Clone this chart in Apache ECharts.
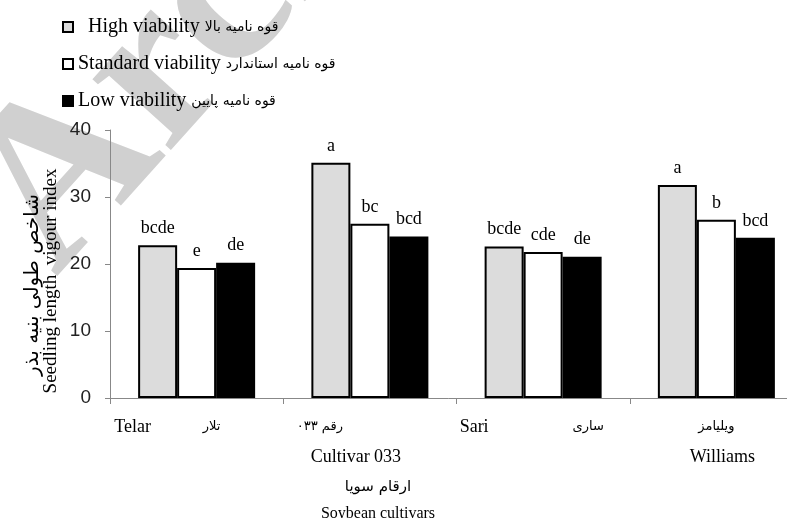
<!DOCTYPE html>
<html>
<head>
<meta charset="utf-8">
<script src="https://cdn.jsdelivr.net/npm/echarts@6/dist/echarts.min.js"></script>
<style>
  html, body { margin: 0; padding: 0; background: #fff; }
  #main-chart { width: 787px; height: 518px; }
</style>
</head>
<body>
<div id="main-chart"></div>
<script>
// cultivars (english + persian names)
var categories = ['Telar', 'Cultivar 033', 'Sari', 'Williams'];
var categoriesFa = ['تلار', 'رقم ۰۳۳', 'ساری', 'ویلیامز'];

// seedling length vigour index
var highViability = [22.8, 35.1, 22.6, 31.8];
var standardViability = [19.4, 26.0, 21.8, 26.6];
var lowViability = [20.2, 24.1, 21.1, 23.9];

// mean comparison letters
var highLetters = ['bcde', 'a', 'bcde', 'a'];
var standardLetters = ['e', 'bc', 'cde', 'b'];
var lowLetters = ['de', 'bcd', 'de', 'bcd'];

var seriesNames = ['High viability', 'Standard viability', 'Low viability'];
var seriesNamesFa = ['قوه نامیه بالا', 'قوه نامیه استاندارد', 'قوه نامیه پایین'];

var yTicks = [0, 10, 20, 30, 40];

// label placement under the axis: [dx from group center, row]
var enLabelPos = [[-64, 0], [-14, 1], [-69, 0], [6, 1]];
var faLabelPos = [[15, 0], [-50, 0], [45, 0], [0, 0]];

var serif = 'Liberation Serif';
var arabic = 'DejaVu Sans';

var myChart = echarts.init(document.getElementById('main-chart'));

function letterLabel(letters) {
    return {
        show: true,
        position: 'top',
        distance: 8,
        fontFamily: serif,
        fontSize: 18,
        color: '#000',
        formatter: function (p) { return letters[p.dataIndex]; }
    };
}

var option = {
    animation: false,
    backgroundColor: '#fff',
    grid: { left: 110, top: 130, right: -16, height: 268, outerBoundsMode: 'none' },
    legend: {
        orient: 'vertical',
        left: 62,
        top: 17,
        padding: 0,
        icon: 'rect',
        itemWidth: 10,
        itemHeight: 10,
        itemGap: 17,
        data: [
            { name: seriesNames[0], itemStyle: { color: '#dcdcdc', borderColor: '#000', borderWidth: 2 } },
            { name: seriesNames[1], itemStyle: { color: '#fff', borderColor: '#000', borderWidth: 2 } },
            { name: seriesNames[2], itemStyle: { color: '#000', borderColor: '#000', borderWidth: 2 } }
        ],
        formatter: function (name) {
            var i = seriesNames.indexOf(name);
            var lead = i === 0 ? '  ' : '';
            return '{en|' + lead + name + ' }{fa|' + seriesNamesFa[i] + '}';
        },
        textStyle: {
            rich: {
                en: { fontFamily: serif, fontSize: 20, color: '#000', lineHeight: 20 },
                fa: { fontFamily: arabic, fontSize: 14, color: '#000', lineHeight: 20 }
            }
        }
    },
    xAxis: {
        type: 'category',
        data: categories,
        axisLine: { lineStyle: { color: '#888', width: 1 } },
        axisTick: { show: true, length: 6, lineStyle: { color: '#888' } },
        axisLabel: { show: false }
    },
    yAxis: {
        type: 'value',
        min: yTicks[0],
        max: yTicks[yTicks.length - 1],
        interval: 10,
        splitLine: { show: false },
        axisLine: { show: true, lineStyle: { color: '#888', width: 1 } },
        axisTick: { show: true, length: 5, lineStyle: { color: '#888' } },
        axisLabel: { fontFamily: 'Liberation Sans', fontSize: 19, color: '#222', margin: 19 }
    },
    series: [
        {
            name: seriesNames[0], type: 'bar', data: highViability,
            barWidth: 39, barGap: '0%',
            itemStyle: { color: '#dcdcdc', borderColor: '#000', borderWidth: 2 },
            label: letterLabel(highLetters)
        },
        {
            name: seriesNames[1], type: 'bar', data: standardViability,
            barWidth: 39, barGap: '0%',
            itemStyle: { color: '#fff', borderColor: '#000', borderWidth: 2 },
            label: letterLabel(standardLetters)
        },
        {
            name: seriesNames[2], type: 'bar', data: lowViability,
            barWidth: 39, barGap: '0%',
            itemStyle: { color: '#000', borderColor: '#000', borderWidth: 2 },
            label: letterLabel(lowLetters)
        }
    ]
};
myChart.setOption(option);

// axis texts placed from the category scale
var rowY = [427, 457];
var graphics = [
    {   // watermark
        type: 'text', z: -10, silent: true,
        x: 97, y: 315, rotation: 48 * Math.PI / 180,
        style: { text: 'Archive of SID', fontFamily: serif, fontWeight: 'bold', fontSize: 230, fill: '#d0d0d0', verticalAlign: 'bottom' }
    },
    {   // y axis title
        type: 'text', x: 33, y: 285, rotation: Math.PI / 2,
        style: { text: 'شاخص طولی بنیه بذر', fontFamily: arabic, fontSize: 20, fill: '#000', align: 'center', verticalAlign: 'middle' }
    },
    {
        type: 'text', x: 51, y: 281, rotation: Math.PI / 2,
        style: { text: 'Seedling length  vigour index', fontFamily: serif, fontSize: 19, fill: '#000', align: 'center', verticalAlign: 'middle' }
    },
    {   // x axis title
        type: 'text', x: 378, y: 487,
        style: { text: 'ارقام سویا', fontFamily: arabic, fontSize: 15, fill: '#000', align: 'center', verticalAlign: 'middle' }
    },
    {
        type: 'text', x: 378, y: 514,
        style: { text: 'Soybean cultivars', fontFamily: serif, fontSize: 16, fill: '#000', align: 'center', verticalAlign: 'middle' }
    }
];
categories.forEach(function (cat, i) {
    var cx = myChart.convertToPixel({ xAxisIndex: 0 }, cat);
    graphics.push({
        type: 'text', x: cx + enLabelPos[i][0], y: rowY[enLabelPos[i][1]],
        style: { text: cat, fontFamily: serif, fontSize: 18, fill: '#000', align: 'center', verticalAlign: 'middle' }
    });
    graphics.push({
        type: 'text', x: cx + faLabelPos[i][0], y: rowY[faLabelPos[i][1]],
        style: { text: categoriesFa[i], fontFamily: arabic, fontSize: 13, fill: '#000', align: 'center', verticalAlign: 'middle' }
    });
});
myChart.setOption({ graphic: graphics });
</script>
</body>
</html>
